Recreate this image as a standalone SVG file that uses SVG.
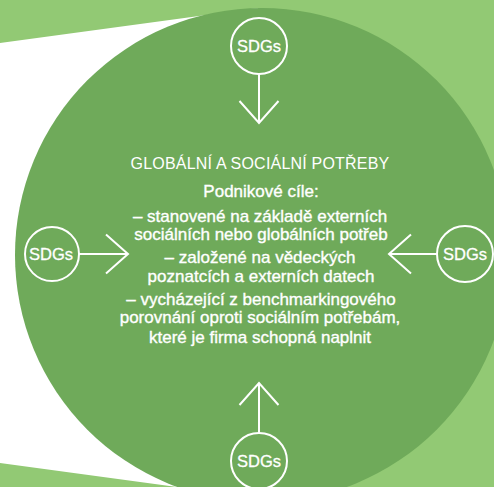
<svg xmlns="http://www.w3.org/2000/svg" width="494" height="487" viewBox="0 0 494 487">
  <defs>
    <style>
      .bg { fill: #92C974; }
      .wedge { fill: #FFFFFF; }
      .big { fill: #6FAA5A; }
      .ring { fill: none; stroke: #FFFFFF; stroke-width: 2; }
      .conn { fill: none; stroke: #FFFFFF; stroke-width: 2; }
      .sdg { font-family: "Liberation Sans", Arial, sans-serif; font-size: 16.5px; fill: #FFFFFF; stroke: #FFFFFF; stroke-width: 0.3px; text-anchor: middle; }
      .title { font-family: "Liberation Sans", Arial, sans-serif; font-size: 16px; fill: #FFFFFF; text-anchor: middle; letter-spacing: 0.2px; }
      .body { font-family: "Liberation Sans", Arial, sans-serif; font-size: 17px; fill: #FFFFFF; stroke: #FFFFFF; stroke-width: 0.35px; text-anchor: middle; }
    </style>
    <marker id="chev" viewBox="-25 -22 27 44" refX="0" refY="0" markerUnits="userSpaceOnUse" markerWidth="27" markerHeight="44" orient="auto">
      <path d="M -22,-19.5 L 0,0 L -22,19.5" fill="none" stroke="#FFFFFF" stroke-width="2"/>
    </marker>
  </defs>

  <rect class="bg" x="0" y="0" width="494" height="487"/>
  <polygon class="wedge" points="0,43 258,8 258,498 0,463"/>

  <g id="center">
    <circle class="big" cx="262" cy="255" r="247"/>
    <text class="title" x="260" y="169">GLOBÁLNÍ A SOCIÁLNÍ POTŘEBY</text>
    <text class="body" x="261" y="197">Podnikové cíle:</text>
    <text class="body" x="260" y="222">– stanovené na základě externích</text>
    <text class="body" x="261" y="240">sociálních nebo globálních potřeb</text>
    <text class="body" x="260" y="263">– založené na vědeckých</text>
    <text class="body" x="261" y="282">poznatcích a externích datech</text>
    <text class="body" x="261" y="305">– vycházející z benchmarkingového</text>
    <text class="body" x="260" y="323">porovnání oproti sociálním potřebám,</text>
    <text class="body" x="260" y="343">které je firma schopná naplnit</text>
  </g>

  <g id="sdg-top">
    <circle class="ring" cx="259" cy="46" r="28"/>
    <text class="sdg" x="259" y="52">SDGs</text>
  </g>
  <g id="sdg-left">
    <circle class="ring" cx="52" cy="254" r="27"/>
    <text class="sdg" x="51" y="260">SDGs</text>
  </g>
  <g id="sdg-right">
    <circle class="ring" cx="465" cy="254" r="28"/>
    <text class="sdg" x="465" y="260">SDGs</text>
  </g>
  <g id="sdg-bottom">
    <circle class="ring" cx="259" cy="461" r="28"/>
    <text class="sdg" x="259" y="467">SDGs</text>
  </g>

  <g id="connectors">
    <line class="conn" x1="259" y1="74" x2="259" y2="123" marker-end="url(#chev)"/>
    <line class="conn" x1="79" y1="254" x2="128" y2="254" marker-end="url(#chev)"/>
    <line class="conn" x1="437" y1="254" x2="389" y2="254" marker-end="url(#chev)"/>
    <line class="conn" x1="259" y1="433" x2="259" y2="383" marker-end="url(#chev)"/>
  </g>
</svg>
